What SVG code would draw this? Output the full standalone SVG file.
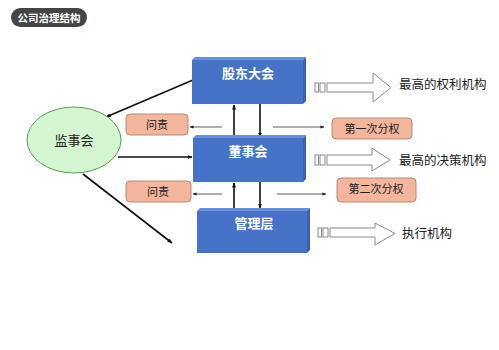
<svg xmlns="http://www.w3.org/2000/svg" width="499" height="350" viewBox="0 0 499 350">
<defs>
<marker id="ah" viewBox="0 0 10 10" refX="9" refY="5" markerWidth="5" markerHeight="5" orient="auto-start-reverse" markerUnits="userSpaceOnUse">
<path d="M0,1 L10,5 L0,9 z" fill="#111"/>
</marker>
<marker id="ahs" viewBox="0 0 10 10" refX="9" refY="5" markerWidth="4" markerHeight="4" orient="auto" markerUnits="userSpaceOnUse">
<path d="M0,1 L10,5 L0,9 z" fill="#222"/>
</marker>
</defs>
<style>
text{font-family:"Noto Sans CJK SC","Liberation Sans",sans-serif;}
.front{fill:#4673c8;}
.top{fill:#6690dc;}
.side{fill:#3a62b0;}
.bt{fill:#fff;font-size:13px;font-weight:bold;text-anchor:middle;}
.sal{fill:#f3b59c;stroke:#b98a72;stroke-width:1;}
.st{fill:#222;font-size:11px;text-anchor:middle;}
.hol{fill:#fff;stroke:#8a8a8a;stroke-width:1;}
.lbl{fill:#222;font-size:12.5px;}
.thick{stroke:#111;stroke-width:1.6;fill:none;}
.thin{stroke:#333;stroke-width:0.8;fill:none;}
</style>
<rect width="499" height="350" fill="#fff"/>
<g id="title">
<rect x="11" y="8" width="76" height="19" rx="9.5" fill="#454545"/>
<text x="49" y="21.5" fill="#fff" font-size="10.5" font-weight="bold" text-anchor="middle">公司治理结构</text>
</g>
<g id="connectors">
<line class="thick" x1="193" y1="80" x2="106" y2="117" marker-end="url(#ah)"/>
<line class="thick" x1="118" y1="157" x2="192" y2="157" marker-end="url(#ah)"/>
<line class="thick" x1="83" y1="174" x2="172" y2="243" marker-end="url(#ah)"/>
<line class="thick" x1="234" y1="137" x2="234" y2="105" marker-end="url(#ah)"/>
<line class="thick" x1="260" y1="104" x2="260" y2="137" marker-end="url(#ah)"/>
<line class="thick" x1="234" y1="208" x2="234" y2="183" marker-end="url(#ah)"/>
<line class="thick" x1="260" y1="182" x2="260" y2="208" marker-end="url(#ah)"/>
<line class="thin" x1="222" y1="127" x2="190" y2="127" marker-end="url(#ahs)"/>
<line class="thin" x1="222" y1="194" x2="193" y2="194" marker-end="url(#ahs)"/>
<line class="thin" x1="273" y1="127" x2="324" y2="127" marker-end="url(#ahs)"/>
<line class="thin" x1="277" y1="194" x2="326" y2="194" marker-end="url(#ahs)"/>
</g>
<g id="gudong">
<rect class="front" x="192" y="60" width="111" height="44"/>
<polygon class="top" points="192,60 195,57 306,57 303,60"/>
<polygon class="side" points="303,60 306,57 306,101 303,104"/>
<text class="bt" x="248" y="78">股东大会</text>
</g>
<g id="dongshi">
<rect class="front" x="193" y="138" width="110" height="44"/>
<polygon class="top" points="193,138 196,135 306,135 303,138"/>
<polygon class="side" points="303,138 306,135 306,179 303,182"/>
<text class="bt" x="248" y="156">董事会</text>
</g>
<g id="guanli">
<rect class="front" x="197" y="211" width="110" height="42"/>
<polygon class="top" points="197,211 200,208 310,208 307,211"/>
<polygon class="side" points="307,211 310,208 310,250 307,253"/>
<text class="bt" x="254" y="228">管理层</text>
</g>
<g id="jianshi">
<ellipse cx="74" cy="140" rx="47" ry="33" fill="#d3f5d0" stroke="#5f9a58" stroke-width="1"/>
<text x="74" y="145" fill="#222" font-size="13" text-anchor="middle">监事会</text>
</g>
<g id="wenze1">
<rect class="sal" x="126" y="114" width="62" height="21" rx="4"/>
<text class="st" x="157" y="128.5">问责</text>
</g>
<g id="wenze2">
<rect class="sal" x="126" y="181" width="65" height="21" rx="4"/>
<text class="st" x="158" y="195.5">问责</text>
</g>
<g id="fenquan1">
<rect class="sal" x="332" y="118" width="80" height="21" rx="4"/>
<text class="st" x="372" y="132.5">第一次分权</text>
</g>
<g id="fenquan2">
<rect class="sal" x="337" y="178" width="79" height="24" rx="4"/>
<text class="st" x="376" y="193">第二次分权</text>
</g>
<g id="arrow1">
<rect class="hol" x="315" y="83" width="3.5" height="9"/>
<rect class="hol" x="320" y="83" width="5" height="9"/>
<polygon class="hol" points="327,83 373,83 373,73 391,87.5 373,102 373,92 327,92"/>
<text class="lbl" x="399" y="89">最高的权利机构</text>
</g>
<g id="arrow2">
<rect class="hol" x="315" y="155" width="3.5" height="10"/>
<rect class="hol" x="320" y="155" width="5" height="10"/>
<polygon class="hol" points="327,155 372,155 372,148 390,160 372,171 372,165 327,165"/>
<text class="lbl" x="399" y="165">最高的决策机构</text>
</g>
<g id="arrow3">
<rect class="hol" x="318" y="228" width="3.5" height="9"/>
<rect class="hol" x="323" y="228" width="5" height="9"/>
<polygon class="hol" points="330,228 375,228 375,223 395,233.5 375,245 375,237 330,237"/>
<text class="lbl" x="402" y="238">执行机构</text>
</g>
</svg>
